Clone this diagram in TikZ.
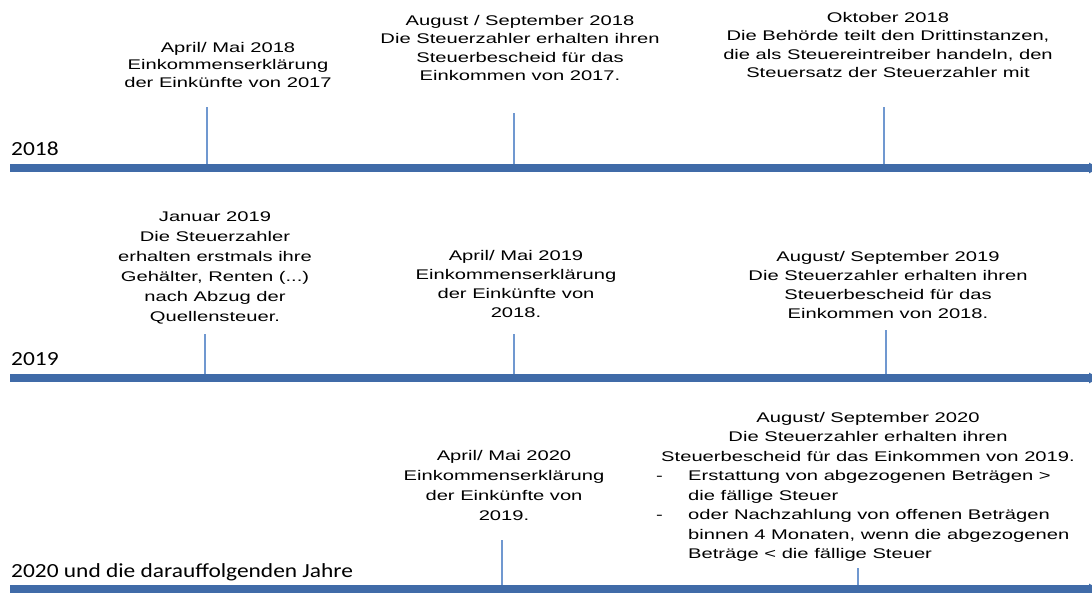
\documentclass[tikz,border=0pt]{standalone}
\usepackage{fontspec}
\setmainfont[FakeStretch=1.44]{Liberation Sans}
\newfontfamily\yearfont[FakeStretch=1.17]{Carlito}
\usetikzlibrary{arrows.meta}
\definecolor{linecol}{RGB}{64,107,168}
\definecolor{tickcol}{RGB}{112,152,208}

\begin{document}
\begin{tikzpicture}[x=1pt,y=-1pt,
    event/.style={anchor=north,inner sep=0pt,align=center,font=\fontsize{14}{#1}\selectfont},
    event/.default=19,
    steps/.style={anchor=north west,inner sep=0pt,font=\fontsize{14}{19.5}\selectfont},
    year/.style={anchor=base west,inner sep=0pt,font=\yearfont\fontsize{20}{24}\selectfont},
    timeline/.style={line width=7.5pt,draw=linecol,-{Triangle[length=10pt,width=10pt]}},
    tick/.style={draw=tickcol,line width=2pt}]
    \useasboundingbox (0,0) rectangle (1092,592);

    \coordinate (s18) at (10,168);  \coordinate (e18) at (1099,168);
    \coordinate (s19) at (10,378);  \coordinate (e19) at (1099,378);
    \coordinate (s20) at (10,589);  \coordinate (e20) at (1099,589);

    \coordinate (k1) at (207,107);
    \coordinate (k2) at (514,113);
    \coordinate (k3) at (884,107);
    \coordinate (k4) at (205,334);
    \coordinate (k5) at (514,334);
    \coordinate (k6) at (886,330);
    \coordinate (k7) at (502,540);
    \coordinate (k8) at (858,568);

    \draw[tick] (k1) -- (k1 |- s18);
    \draw[tick] (k2) -- (k2 |- s18);
    \draw[tick] (k3) -- (k3 |- s18);
    \draw[tick] (k4) -- (k4 |- s19);
    \draw[tick] (k5) -- (k5 |- s19);
    \draw[tick] (k6) -- (k6 |- s19);
    \draw[tick] (k7) -- (k7 |- s20);
    \draw[tick] (k8) -- (k8 |- s20);

    \draw[timeline] (s18) -- (e18);
    \draw[timeline] (s19) -- (e19);
    \draw[timeline] (s20) -- (e20);

    \node[year] (y18) at (11,155) {2018};
    \node[year] (y19) at (11,365) {2019};
    \node[year] (y20) at (11,577) {2020 und die darauffolgenden Jahre};

    \node[event=17.5] (apr18) at (228,42) {April/ Mai 2018\\Einkommenserklärung\\der Einkünfte von 2017};
    \node[event=18.5] (aug18) at (520,15) {August / September 2018\\Die Steuerzahler erhalten ihren\\Steuerbescheid für das\\Einkommen von 2017.};
    \node[event=18.5] (okt18) at (888,12) {Oktober 2018\\Die Behörde teilt den Drittinstanzen,\\die als Steuereintreiber handeln, den\\Steuersatz der Steuerzahler mit};

    \node[event=20] (jan19) at (215,212) {Januar 2019\\Die Steuerzahler\\erhalten erstmals ihre\\Gehälter, Renten (...)\\nach Abzug der\\Quellensteuer.};
    \node[event] (apr19) at (516,250) {April/ Mai 2019\\Einkommenserklärung\\der Einkünfte von\\2018.};
    \node[event] (aug19) at (888,251) {August/ September 2019\\Die Steuerzahler erhalten ihren\\Steuerbescheid für das\\Einkommen von 2018.};

    \node[event=20] (apr20) at (504,450) {April/ Mai 2020\\Einkommenserklärung\\der Einkünfte von\\2019.};
    \node[event=19.5] (aug20) at (868,412) {August/ September 2020\\Die Steuerzahler erhalten ihren\\Steuerbescheid für das Einkommen von 2019.};
    \node[steps] (bet20) at (656,467) {\begin{tabular}{@{}p{32pt}@{}l@{}}
        -&Erstattung von abgezogenen Beträgen >\\
         &die fällige Steuer\\
        -&oder Nachzahlung von offenen Beträgen\\
         &binnen 4 Monaten, wenn die abgezogenen\\
         &Beträge < die fällige Steuer
        \end{tabular}};
\end{tikzpicture}
\end{document}
